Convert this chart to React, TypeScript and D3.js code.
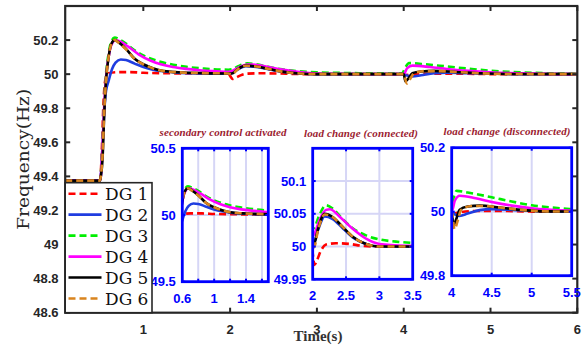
import React from 'react';
import * as d3 from 'd3';

type Pt = [number, number];

// ---------- data (time s, frequency Hz) ----------
const dg1: Pt[] = [[0.1,49.375],[0.5,49.375],[0.51,49.42],[0.525,49.6],[0.54,49.82],[0.555,49.94],[0.575,49.99],[0.6,50.005],[0.7,50.012],[0.85,50.012],[1.0,50.008],[1.3,50.005],[1.6,50.004],[1.9,50.004],[1.98,50.003],[2.0,49.99],[2.025,49.972],[2.06,49.978],[2.12,49.993],[2.2,50.003],[2.35,50.005],[2.55,50.004],[2.75,50.001],[3.0,50.0],[4.0,50.0],[4.03,49.995],[4.1,49.998],[4.3,50.002],[4.7,50.002],[5.1,50.0],[6.0,50.0]];
const dg2: Pt[] = [[0.1,49.375],[0.5,49.375],[0.51,49.4],[0.53,49.58],[0.55,49.78],[0.57,49.9],[0.6,49.96],[0.64,50.03],[0.68,50.068],[0.74,50.086],[0.8,50.083],[0.9,50.062],[1.0,50.042],[1.1,50.028],[1.2,50.018],[1.4,50.009],[1.7,50.004],[1.98,50.002],[2.02,50.006],[2.08,50.025],[2.18,50.046],[2.3,50.042],[2.45,50.028],[2.6,50.014],[2.8,50.004],[3.0,50.0],[4.0,50.0],[4.05,49.99],[4.1,49.987],[4.2,49.994],[4.35,50.005],[4.5,50.008],[4.8,50.005],[5.1,50.002],[5.5,50.0],[6.0,50.0]];
const dg3: Pt[] = [[0.1,49.375],[0.5,49.375],[0.51,49.41],[0.53,49.6],[0.55,49.85],[0.57,50.0],[0.6,50.12],[0.63,50.19],[0.67,50.215],[0.72,50.205],[0.8,50.18],[0.9,50.14],[1.0,50.11],[1.15,50.08],[1.3,50.06],[1.5,50.043],[1.7,50.033],[1.9,50.027],[1.98,50.026],[2.03,50.03],[2.1,50.048],[2.2,50.063],[2.3,50.058],[2.45,50.042],[2.6,50.028],[2.8,50.017],[3.0,50.011],[3.3,50.007],[3.6,50.005],[3.98,50.004],[4.02,50.04],[4.06,50.065],[4.2,50.06],[4.5,50.045],[4.75,50.032],[5.0,50.02],[5.25,50.013],[5.5,50.008],[5.75,50.004],[6.0,50.002]];
const dg4: Pt[] = [[0.1,49.375],[0.5,49.375],[0.51,49.4],[0.53,49.58],[0.55,49.82],[0.57,49.98],[0.6,50.1],[0.63,50.17],[0.68,50.2],[0.74,50.19],[0.83,50.16],[0.95,50.115],[1.08,50.08],[1.2,50.058],[1.34,50.042],[1.5,50.031],[1.65,50.023],[1.8,50.018],[1.98,50.014],[2.03,50.02],[2.1,50.04],[2.2,50.056],[2.26,50.057],[2.4,50.046],[2.6,50.027],[2.8,50.012],[3.0,50.004],[3.5,50.001],[4.0,50.0],[4.04,50.035],[4.1,50.05],[4.3,50.042],[4.5,50.03],[4.75,50.019],[5.0,50.011],[5.5,50.003],[6.0,50.0]];
const dg5: Pt[] = [[0.1,49.375],[0.5,49.375],[0.51,49.4],[0.53,49.5],[0.55,49.77],[0.57,49.96],[0.6,50.1],[0.63,50.175],[0.67,50.2],[0.72,50.185],[0.8,50.148],[0.9,50.09],[1.0,50.058],[1.1,50.036],[1.2,50.021],[1.4,50.011],[1.7,50.006],[1.98,50.004],[2.02,50.004],[2.08,50.027],[2.18,50.05],[2.3,50.045],[2.45,50.03],[2.6,50.015],[2.8,50.004],[3.0,50.0],[4.0,50.0],[4.02,49.958],[4.05,49.972],[4.1,50.006],[4.2,50.016],[4.35,50.019],[4.6,50.013],[4.9,50.005],[5.2,50.001],[6.0,50.0]];
const dg6: Pt[] = [[0.1,49.375],[0.5,49.375],[0.51,49.4],[0.53,49.52],[0.55,49.78],[0.57,49.96],[0.6,50.1],[0.63,50.175],[0.67,50.2],[0.72,50.183],[0.8,50.146],[0.9,50.09],[1.0,50.058],[1.1,50.036],[1.2,50.021],[1.4,50.011],[1.7,50.006],[1.98,50.004],[2.02,49.999],[2.08,50.025],[2.18,50.049],[2.3,50.045],[2.45,50.03],[2.6,50.015],[2.8,50.004],[3.0,50.0],[4.0,50.0],[4.035,49.945],[4.07,49.968],[4.12,50.006],[4.25,50.018],[4.4,50.018],[4.6,50.013],[4.9,50.005],[5.2,50.001],[6.0,50.0]];

const seriesData: Pt[][] = [dg1, dg2, dg3, dg4, dg5, dg6];
const seriesNames = ['DG 1', 'DG 2', 'DG 3', 'DG 4', 'DG 5', 'DG 6'];
const seriesColors = ['#ff0000', '#1f3de0', '#00ee00', '#ff00ff', '#000000', '#d9841e'];
const seriesDashed = [true, false, true, false, false, true];

// main axes
const mainXDomain = [0.1, 6];
const mainYDomain = [48.6, 50.4];
const mainXTicks = [1, 2, 3, 4, 5, 6];
const mainYTicks = [48.6, 48.8, 49, 49.2, 49.4, 49.6, 49.8, 50, 50.2, 50.4];
const mainYLabels = [48.6, 48.8, 49, 49.2, 49.4, 49.6, 49.8, 50, 50.2];

// insets
const inset1Title = 'secondary control activated';
const inset1X = [0.6, 1.68];
const inset1Y = [49.5, 50.5];
const inset1XTicks = [0.6, 1, 1.4];
const inset1XGrid = [0.8, 1.0, 1.2, 1.4, 1.6];
const inset1YTicks = [49.5, 50, 50.5];

const inset2Title = 'load change (connected)';
const inset2X = [2, 3.5];
const inset2Y = [49.95, 50.15];
const inset2XTicks = [2, 2.5, 3, 3.5];
const inset2XGrid = [2.5, 3];
const inset2YTicks = [49.95, 50, 50.05, 50.1];

const inset3Title = 'load change (disconnected)';
const inset3X = [4, 5.5];
const inset3Y = [49.8, 50.2];
const inset3XTicks = [4, 4.5, 5, 5.5];
const inset3XGrid = [4.5, 5];
const inset3YTicks = [49.8, 50, 50.2];

const AXIS = '#262626';
const BLUE = '#0000ff';
const GRID = '#d6d6f6';
const TITLE = '#9b1b30';
const LW = 2.6;
const DASH = '7,4';

function Lines({ x, y, clipId }: { x: d3.ScaleLinear<number, number>; y: d3.ScaleLinear<number, number>; clipId: string }) {
  const line = d3.line<Pt>().x(d => x(d[0])).y(d => y(d[1])).curve(d3.curveMonotoneX);
  return (
    <g clipPath={`url(#${clipId})`}>
      {seriesData.map((s, i) => (
        <path key={i} d={line(s) || ''} fill="none" stroke={seriesColors[i]} strokeWidth={LW}
          strokeDasharray={seriesDashed[i] ? DASH : undefined} strokeLinejoin="round" />
      ))}
    </g>
  );
}

type InsetProps = {
  id: string; left: number; top: number; right: number; bottom: number;
  xd: number[]; yd: number[]; xTicks: number[]; xGrid: number[]; yTicks: number[];
  title: string; titleX: number; titleY: number; titleLen: number;
};

function Inset(p: InsetProps) {
  const x = d3.scaleLinear().domain(p.xd).range([p.left, p.right]);
  const y = d3.scaleLinear().domain(p.yd).range([p.bottom, p.top]);
  const tl = 3;
  return (
    <g>
      <defs>
        <clipPath id={p.id}><rect x={p.left} y={p.top} width={p.right - p.left} height={p.bottom - p.top} /></clipPath>
      </defs>
      <rect x={p.left} y={p.top} width={p.right - p.left} height={p.bottom - p.top} fill="#fff" />
      {p.xGrid.map((v, i) => (
        <line key={'gx' + i} x1={x(v)} x2={x(v)} y1={p.top} y2={p.bottom} stroke={GRID} strokeWidth={2} />
      ))}
      {p.yTicks.map((v, i) => (
        <line key={'gy' + i} x1={p.left} x2={p.right} y1={y(v)} y2={y(v)} stroke={GRID} strokeWidth={2} />
      ))}
      <Lines x={x} y={y} clipId={p.id} />
      {p.xGrid.map((v, i) => (
        <g key={'tx' + i}>
          <line x1={x(v)} x2={x(v)} y1={p.top} y2={p.top + tl} stroke={BLUE} strokeWidth={2} />
          <line x1={x(v)} x2={x(v)} y1={p.bottom} y2={p.bottom - tl} stroke={BLUE} strokeWidth={2} />
        </g>
      ))}
      {p.yTicks.map((v, i) => (
        <g key={'ty' + i}>
          <line x1={p.left} x2={p.left + tl} y1={y(v)} y2={y(v)} stroke={BLUE} strokeWidth={2} />
          <line x1={p.right} x2={p.right - tl} y1={y(v)} y2={y(v)} stroke={BLUE} strokeWidth={2} />
        </g>
      ))}
      <rect x={p.left} y={p.top} width={p.right - p.left} height={p.bottom - p.top} fill="none" stroke={BLUE} strokeWidth={2.8} />
      {p.yTicks.map((v, i) => (
        <text key={'ly' + i} x={p.left - 6.5} y={y(v) + 4.6} textAnchor="end" fontFamily="'Liberation Sans', Arial, sans-serif"
          fontWeight="bold" fontSize={13} fill={BLUE}>{String(v)}</text>
      ))}
      {p.xTicks.map((v, i) => (
        <text key={'lx' + i} x={x(v)} y={p.bottom + 21} textAnchor="middle" fontFamily="'Liberation Sans', Arial, sans-serif"
          fontWeight="bold" fontSize={13} fill={BLUE}>{String(v)}</text>
      ))}
      <text x={p.titleX} y={p.titleY} textAnchor="middle" fontFamily="'Liberation Serif', 'Times New Roman', serif"
        fontWeight="bold" fontStyle="italic" fontSize={11} fill={TITLE} textLength={p.titleLen}
        lengthAdjust="spacing">{p.title}</text>
    </g>
  );
}

export default function App() {
  const W = 587, H = 345;
  const L = 65.2, R = 577.3, T = 6, B = 312.7;
  const x = d3.scaleLinear().domain(mainXDomain).range([L, R]);
  const y = d3.scaleLinear().domain(mainYDomain).range([B, T]);
  const tk = 5;
  const legTop = 182.7, legRight = 152;
  const legRow = (B - legTop) / 6.2;
  return (
    <svg width={W} height={H} style={{ position: 'absolute', left: 0, top: 0 }} xmlns="http://www.w3.org/2000/svg">
      <rect x={0} y={0} width={W} height={H} fill="#fff" />
      <defs>
        <clipPath id="mainclip"><rect x={L} y={T} width={R - L} height={B - T} /></clipPath>
      </defs>
      <Lines x={x} y={y} clipId="mainclip" />
      {/* main ticks */}
      {mainXTicks.map((v, i) => (
        <g key={'mx' + i}>
          <line x1={x(v)} x2={x(v)} y1={B} y2={B - tk} stroke={AXIS} strokeWidth={2} />
          <line x1={x(v)} x2={x(v)} y1={T} y2={T + tk} stroke={AXIS} strokeWidth={2} />
          <text x={x(v)} y={334} textAnchor="middle" fontFamily="'Liberation Sans', Arial, sans-serif" fontWeight="bold"
            fontSize={13} fill={AXIS}>{String(v)}</text>
        </g>
      ))}
      {mainYTicks.map((v, i) => (
        <g key={'my' + i}>
          <line x1={L} x2={L + tk} y1={y(v)} y2={y(v)} stroke={AXIS} strokeWidth={2} />
          <line x1={R} x2={R - tk} y1={y(v)} y2={y(v)} stroke={AXIS} strokeWidth={2} />
        </g>
      ))}
      {mainYLabels.map((v, i) => (
        <text key={'myl' + i} x={58.5} y={y(v) + 4.6} textAnchor="end" fontFamily="'Liberation Sans', Arial, sans-serif"
          fontWeight="bold" fontSize={13} fill={AXIS}>{String(v)}</text>
      ))}
      <rect x={L} y={T} width={R - L} height={B - T} fill="none" stroke={AXIS} strokeWidth={2.2} />

      <text transform={`translate(29,${(T + B) / 2}) rotate(-90)`} textAnchor="middle"
        fontFamily="'DejaVu Serif', serif" fontSize={17} fill={AXIS} textLength={141} lengthAdjust="spacingAndGlyphs">Frequency(Hz)</text>
      <text x={318} y={341} textAnchor="middle" fontFamily="'Liberation Serif', 'Times New Roman', serif" fontWeight="bold"
        fontSize={15} fill="#333">Time(s)</text>

      <Inset id="in1" left={182.3} top={148.3} right={268.3} bottom={281.7} xd={inset1X} yd={inset1Y}
        xTicks={inset1XTicks} xGrid={inset1XGrid} yTicks={inset1YTicks} title={inset1Title}
        titleX={223} titleY={135.5} titleLen={127} />
      <Inset id="in2" left={312.7} top={148.3} right={412.7} bottom={279.3} xd={inset2X} yd={inset2Y}
        xTicks={inset2XTicks} xGrid={inset2XGrid} yTicks={inset2YTicks} title={inset2Title}
        titleX={361} titleY={137} titleLen={114} />
      <Inset id="in3" left={451.7} top={147.7} right={571.7} bottom={275.7} xd={inset3X} yd={inset3Y}
        xTicks={inset3XTicks} xGrid={inset3XGrid} yTicks={inset3YTicks} title={inset3Title}
        titleX={507} titleY={134.5} titleLen={127} />

      {/* legend */}
      <rect x={L} y={legTop} width={legRight - L} height={B - legTop} fill="#fff" stroke={AXIS} strokeWidth={1.6} />
      {seriesNames.map((n, i) => {
        const cy = legTop + 11 + i * legRow;
        return (
          <g key={'lg' + i}>
            <line x1={68.5} x2={101.5} y1={cy} y2={cy} stroke={seriesColors[i]} strokeWidth={LW}
              strokeDasharray={seriesDashed[i] ? DASH : undefined} />
            <text x={105} y={cy + 6} fontFamily="'DejaVu Serif', serif" fontSize={17} fill="#111">{n}</text>
          </g>
        );
      })}
    </svg>
  );
}
